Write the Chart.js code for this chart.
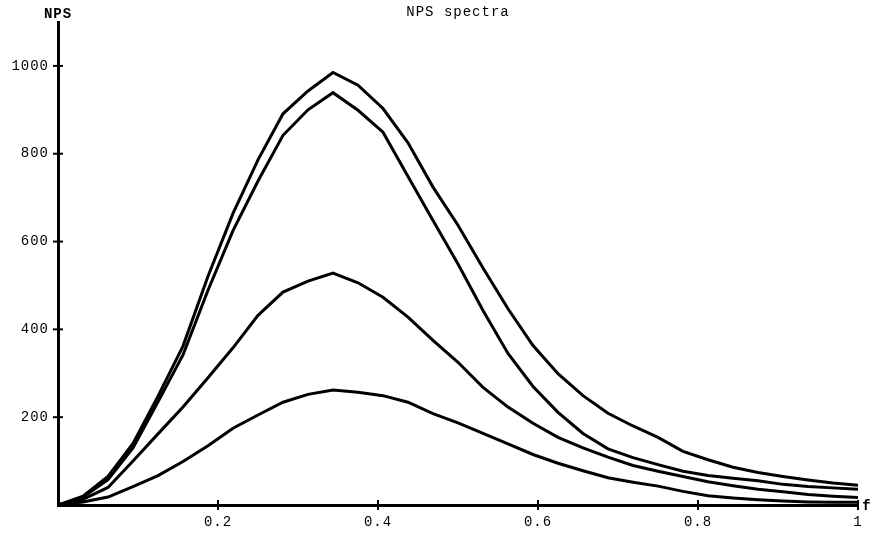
<!DOCTYPE html>
<html lang="en">
<head>
  <meta charset="UTF-8">
  <title>NPS spectra</title>
  <script src="https://cdn.jsdelivr.net/npm/chart.js"></script>
  <style>
    body { margin: 0; background: #fff; }
    #wrap { width: 875px; height: 535px; }
  </style>
</head>
<body>
  <div id="wrap">
    <canvas id="myChart"></canvas>
  </div>

  <script>
    // frequency samples (k/32)
    var freq = [0, 0.03125, 0.0625, 0.09375, 0.125, 0.15625, 0.1875, 0.21875, 0.25, 0.28125,
      0.3125, 0.34375, 0.375, 0.40625, 0.4375, 0.46875, 0.5, 0.53125, 0.5625, 0.59375,
      0.625, 0.65625, 0.6875, 0.71875, 0.75, 0.78125, 0.8125, 0.84375, 0.875, 0.90625,
      0.9375, 0.96875, 1];

    // four spectra
    var npsA = [0, 20, 65, 140, 248, 362, 521, 664, 786, 891, 943, 985, 956, 903, 825, 724,
      637, 540, 447, 363, 299, 249, 209, 180, 154, 122, 103, 86, 74, 65, 57, 50, 45];
    var npsB = [0, 18, 58, 130, 235, 342, 489, 625, 738, 842, 900, 939, 899, 849, 748, 648,
      549, 443, 345, 270, 211, 163, 128, 108, 92, 77, 67, 61, 55, 47, 42, 39, 36];
    var npsC = [0, 13, 40, 100, 162, 223, 290, 358, 432, 485, 510, 528, 506, 473, 428, 375,
      325, 268, 223, 186, 154, 130, 109, 90, 77, 65, 53, 44, 36, 30, 24, 20, 17];
    var npsD = [0, 7, 18, 42, 67, 99, 135, 175, 205, 234, 252, 262, 257, 249, 234, 208,
      187, 163, 139, 115, 95, 78, 62, 52, 43, 31, 21, 16, 12, 9, 7, 6, 6];

    var xTicks = [0.2, 0.4, 0.6, 0.8, 1];
    var xTickLabels = ['0.2', '0.4', '0.6', '0.8', '1'];
    var yTicks = [200, 400, 600, 800, 1000];
    var yTickLabels = ['200', '400', '600', '800', '1000'];

    var monoFont = { family: "'Liberation Mono', 'DejaVu Sans Mono', monospace", size: 14 };

    function toPoints(vals) {
      return vals.map(function (v, i) { return { x: freq[i], y: v }; });
    }

    function lineSet(vals) {
      return {
        data: toPoints(vals),
        borderColor: '#000',
        borderWidth: 3,
        pointRadius: 0,
        tension: 0,
        fill: false
      };
    }

    // typewriter spacing, axis crosses, free labels
    var decorPlugin = {
      id: 'decor',
      beforeDraw: function (chart) {
        chart.ctx.letterSpacing = '1px';
      },
      afterDraw: function (chart) {
        var ctx = chart.ctx;
        var xs = chart.scales.x, ys = chart.scales.y;
        var area = chart.chartArea;
        ctx.save();
        ctx.strokeStyle = '#000';
        ctx.lineWidth = 2;
        xTicks.forEach(function (v) {
          var px = xs.getPixelForValue(v);
          ctx.beginPath();
          ctx.moveTo(px, area.bottom - 5);
          ctx.lineTo(px, area.bottom + 5);
          ctx.stroke();
        });
        yTicks.forEach(function (v) {
          var py = ys.getPixelForValue(v);
          ctx.beginPath();
          ctx.moveTo(area.left - 5, py);
          ctx.lineTo(area.left + 5, py);
          ctx.stroke();
        });
        ctx.fillStyle = '#000';
        ctx.textBaseline = 'middle';
        ctx.textAlign = 'center';
        ctx.font = "bold 14px 'Liberation Mono', monospace";
        ctx.fillText('NPS', area.left, 14);
        ctx.fillText('f', area.right + 9, area.bottom + 1);
        ctx.font = "14px 'Liberation Mono', monospace";
        ctx.fillText('NPS spectra', (area.left + area.right) / 2, 12);
        ctx.restore();
      }
    };

    var ctx = document.getElementById('myChart').getContext('2d');
    var myChart = new Chart(ctx, {
      type: 'line',
      data: {
        datasets: [lineSet(npsA), lineSet(npsB), lineSet(npsC), lineSet(npsD)]
      },
      options: {
        responsive: true,
        maintainAspectRatio: false,
        animation: false,
        layout: { padding: { top: 22, right: 17, left: 0, bottom: 0 } },
        plugins: {
          legend: { display: false },
          tooltip: { enabled: false }
        },
        scales: {
          x: {
            type: 'linear',
            min: 0,
            max: 1,
            afterBuildTicks: function (s) { s.ticks = xTicks.map(function (v) { return { value: v }; }); },
            afterFit: function (s) { s.height = 30; },
            grid: { display: false, drawTicks: false },
            border: { display: true, color: '#000', width: 3 },
            ticks: {
              color: '#000', font: monoFont, padding: 9, maxRotation: 0, autoSkip: false,
              callback: function (v, i) { return xTickLabels[i]; }
            }
          },
          y: {
            min: 0,
            max: 1100,
            afterBuildTicks: function (s) { s.ticks = yTicks.map(function (v) { return { value: v }; }); },
            afterFit: function (s) { s.width = 58; },
            grid: { display: false, drawTicks: false },
            border: { display: true, color: '#000', width: 3 },
            ticks: {
              color: '#000', font: monoFont, padding: 9, autoSkip: false,
              callback: function (v, i) { return yTickLabels[i]; }
            }
          }
        }
      },
      plugins: [decorPlugin]
    });
  </script>
</body>
</html>
